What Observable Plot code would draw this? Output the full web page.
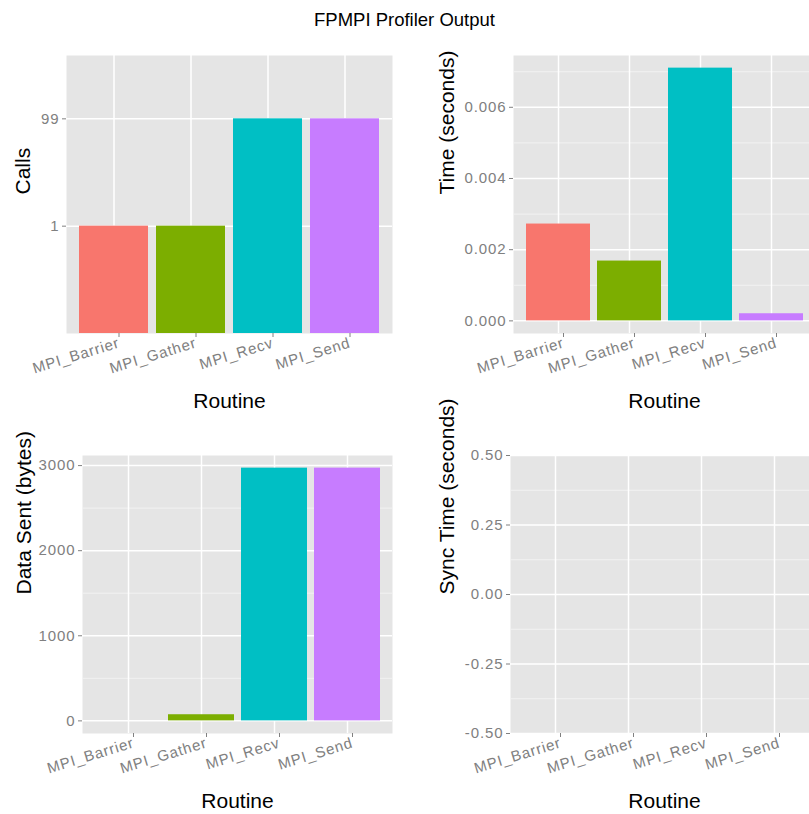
<!DOCTYPE html>
<html><head><meta charset="utf-8">
<script src="https://cdn.jsdelivr.net/npm/d3@7"></script>
<script src="https://cdn.jsdelivr.net/npm/@observablehq/plot@0.6"></script>
<style>
body{margin:0;background:#fff;font-family:"Liberation Sans",Arial,sans-serif;}
#wrap{position:relative;width:809px;height:814px;overflow:hidden;background:#fff;}
.p{position:absolute;overflow:visible;}
.p svg{max-width:none !important;}
.p g[aria-label="y-axis tick label"] text, .p g[aria-label="x-axis tick label"] text{letter-spacing:0.9px;}
#title{position:absolute;left:0;width:809px;top:8px;text-align:center;font-size:18.5px;color:#000;line-height:24px;}
</style></head><body>
<div id="wrap"><div id="title">FPMPI Profiler Output</div></div>
<script>
const routines = ["MPI_Barrier", "MPI_Gather", "MPI_Recv", "MPI_Send"];
const calls = [1, 1, 99, 99];
const timeSec = [0.00272, 0.00168, 0.00710, 0.00020];
const dataSent = [0, 72, 2970, 2970];
const syncTime = [0, 0, 0, 0];
const colors = ["#F8766D", "#7CAE00", "#00BFC4", "#C77CFF"];
const timeTicks = [0, 0.002, 0.004, 0.006];
const bytesTicks = [0, 1000, 2000, 3000];
const syncTicks = [-0.5, -0.25, 0, 0.25, 0.5];

const callLevels = Array.from(new Set(calls)).sort((a, b) => a - b).map(String);
const callIndex = calls.map(v => callLevels.indexOf(String(v)) + 1);

function expandDomain(vals) {
  const lo = Math.min(0, ...vals), hi = Math.max(...vals);
  if (hi === lo) return [lo - 0.5, hi + 0.5];
  const p = (hi - lo) * 0.05;
  return [lo - p, hi + p];
}
function minorOf(ticks, domain) {
  if (ticks.length < 2) return [];
  const step = ticks[1] - ticks[0];
  const out = [];
  for (let v = ticks[0] - step / 2; v <= domain[1]; v += step) if (v >= domain[0]) out.push(v);
  return out;
}

function panel(o) {
  const rows = routines.map((r, i) => ({routine: r, value: o.values[i]}));
  const chart = Plot.plot({
    width: o.width, height: o.height,
    marginLeft: o.ml, marginRight: o.mr, marginTop: o.mt, marginBottom: o.mb,
    style: {fontFamily: "Liberation Sans, Arial, sans-serif", background: "transparent", overflow: "visible", maxWidth: "none"},
    x: {domain: routines, paddingInner: 0.1, paddingOuter: 0.15, label: null},
    y: {domain: o.yDomain, label: null},
    color: {domain: routines, range: colors},
    marks: [
      Plot.frame({fill: "#e5e5e5", stroke: "none"}),
      Plot.ruleY(o.minor, {stroke: "#f2f2f2", strokeWidth: 1}),
      Plot.gridY(o.yTicks, {stroke: "#fff", strokeOpacity: 1, strokeWidth: 1.5}),
      Plot.gridX({stroke: "#fff", strokeOpacity: 1, strokeWidth: 1.5}),
      Plot.barY(rows, {x: "routine", y: "value", fill: "routine"}),
      Plot.axisY(o.yTicks, {tickFormat: o.yFormat, tickSize: 4, tickPadding: 3, fontSize: 15, color: "#808080", label: null}),
      Plot.axisX({tickRotate: -17, tickSize: 4, tickPadding: 5, dx: 5, fontSize: 15, color: "#808080", label: null}),
      Plot.text([o.yLabel], {frameAnchor: "left", dx: -o.labelDx, rotate: -90, fontSize: 21, fill: "#000"}),
      Plot.text(["Routine"], {frameAnchor: "bottom", dy: 74, fontSize: 21, fill: "#000"})
    ]
  });
  const div = document.createElement("div");
  div.className = "p";
  div.style.left = o.left + "px";
  div.style.top = o.top + "px";
  div.style.width = o.width + "px";
  div.style.height = o.height + "px";
  div.appendChild(chart);
  document.getElementById("wrap").appendChild(div);
}

const tDom = expandDomain(timeSec);
const bDom = expandDomain(dataSent);
const sDom = expandDomain(syncTime);

panel({values: callIndex, yLabel: "Calls", yDomain: [0, callLevels.length + 0.59], yTicks: callLevels.map((_, i) => i + 1),
  yFormat: d => callLevels[d - 1], minor: [], left: 0, top: 40, width: 400, height: 380, ml: 66, mr: 8, mt: 15, mb: 87, labelDx: 43});
panel({values: timeSec, yLabel: "Time (seconds)", yDomain: tDom, yTicks: timeTicks, yFormat: d => d.toFixed(3),
  minor: minorOf(timeTicks, tDom), left: 400, top: 40, width: 420, height: 380, ml: 113, mr: 5, mt: 15, mb: 87, labelDx: 66});
panel({values: dataSent, yLabel: "Data Sent (bytes)", yDomain: bDom, yTicks: bytesTicks, yFormat: d => String(d),
  minor: minorOf(bytesTicks, bDom), left: 0, top: 440, width: 400, height: 374, ml: 82, mr: 8, mt: 15, mb: 81, labelDx: 58});
panel({values: syncTime, yLabel: "Sync Time (seconds)", yDomain: sDom, yTicks: syncTicks, yFormat: d => d.toFixed(2),
  minor: minorOf(syncTicks, sDom), left: 400, top: 440, width: 420, height: 374, ml: 110, mr: 2, mt: 15, mb: 81, labelDx: 63});
</script>
</body></html>
